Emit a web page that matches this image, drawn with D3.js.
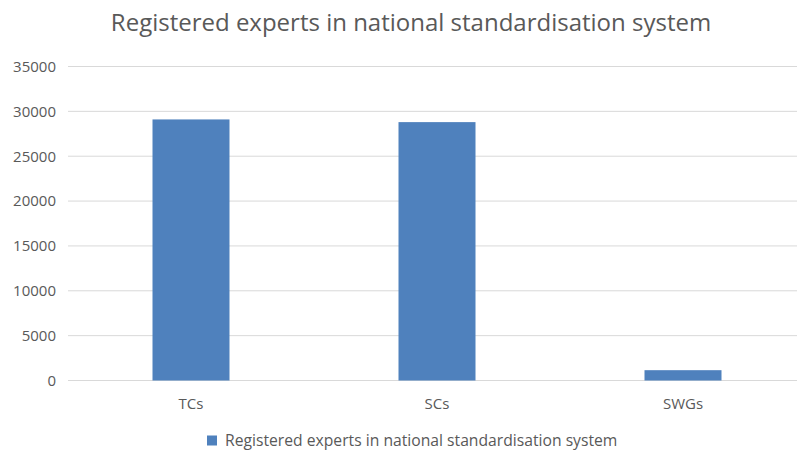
<!DOCTYPE html>
<html>
<head>
<meta charset="utf-8">
<script src="https://cdn.jsdelivr.net/npm/d3@7"></script>
<style>
  body { margin: 0; background: #fff; }
  svg { display: block; font-family: "Open Sans", sans-serif; }
</style>
</head>
<body>
<div id="chart"></div>
<script>
const categories= ['TCs', 'SCs', 'SWGs'];
const values= [29100, 28800, 1150];
const yTicks= [0, 5000, 10000, 15000, 20000, 25000, 30000, 35000];
const seriesName= 'Registered experts in national standardisation system';
const title= 'Registered experts in national standardisation system';

const W= 797, H= 451;
const pad= { l: 68, r: -9, t: 66.5, b: 70.5 };
const TXT= '#595959', BAR= '#4f81bd', GRID= '#d9d9d9';

const svg= d3.select('#chart').append('svg')
  .attr('width', W).attr('height', H);

const x= d3.scaleBand().domain(categories)
  .range([pad.l, W-pad.r]).paddingInner(0.687).paddingOuter(0.3435);
const y= d3.scaleLinear().domain([0, 35000]).range([H-pad.b, pad.t]);

// gridlines
svg.append('g')
  .selectAll('line').data(yTicks).join('line')
  .attr('x1', pad.l).attr('x2', W)
  .attr('y1', d => y(d)).attr('y2', d => y(d))
  .attr('stroke', GRID).attr('stroke-width', 1);

// y axis labels
const yAx= svg.append('g')
  .attr('transform', `translate(${pad.l-12},0)`)
  .call(d3.axisLeft(y).tickValues(yTicks).tickSize(0).tickPadding(0).tickFormat(d3.format('d')));
yAx.select('.domain').remove();
yAx.selectAll('text').attr('font-size', 15).attr('fill', TXT).attr('font-family', '"Open Sans", sans-serif');

// bars
svg.append('g')
  .selectAll('rect').data(values).join('rect')
  .attr('x', (d, i) => x(categories[i]))
  .attr('width', x.bandwidth())
  .attr('y', d => y(d))
  .attr('height', d => y(0)-y(d))
  .attr('fill', BAR);

// x labels
const xAx= svg.append('g')
  .attr('transform', `translate(0,${y(0)})`)
  .call(d3.axisBottom(x).tickSize(0).tickPadding(18));
xAx.select('.domain').remove();
xAx.selectAll('text').attr('font-size', 15).attr('fill', TXT).attr('font-family', '"Open Sans", sans-serif');

// title
svg.append('text')
  .attr('x', 411).attr('y', 31)
  .attr('text-anchor', 'middle')
  .attr('font-size', 24)
  .attr('fill', TXT)
  .text(title);

// legend (nudged up a little so the descenders stay inside the frame)
const lg= svg.append('g').attr('transform', 'translate(207,435.5)');
lg.append('rect').attr('width', 10).attr('height', 10).attr('fill', BAR);
lg.append('text').attr('x', 18).attr('y', 10.5)
  .attr('font-size', 15.7).attr('fill', TXT)
  .text(seriesName);
</script>
</body>
</html>
